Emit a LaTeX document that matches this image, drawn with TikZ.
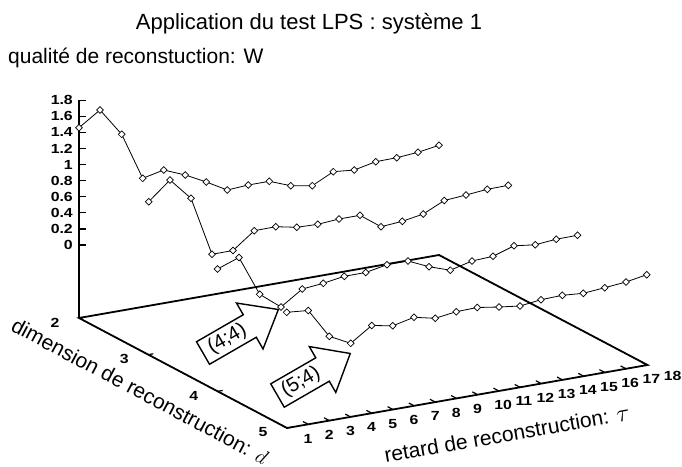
\documentclass[tikz,border=0pt]{standalone}
\usepackage{fontspec}
\setmainfont{Liberation Sans}
\usetikzlibrary{plotmarks}
\begin{document}
\begin{tikzpicture}[x=1pt,y=-1pt,
  curve/.style={line width=0.8pt, mark=square*, mark size=2.4pt,
    mark options={solid, fill=white, rotate=45, line width=0.7pt}},
  axisline/.style={line width=1.8pt, line join=miter},
  tickline/.style={line width=1.2pt},
  ticklab/.style={font=\fontsize{13.2}{15}\bfseries\selectfont, inner sep=0pt},
  lab/.style={font=\fontsize{21}{25}\selectfont, inner sep=0pt},
  bigarrow/.style={draw, line width=1.4pt, fill=white, line join=miter},
  arrowtext/.style={font=\fontsize{20}{24}\selectfont, inner sep=0pt, rotate=30}]
\useasboundingbox (0,0) rectangle (682,466);

% titles
\node[lab, anchor=base, font=\fontsize{22}{26}\selectfont] (title) at (309,29) {Application du test LPS : système 1};
\node[lab, anchor=base west] (zlab) at (8,63) {qualité de reconstuction: W};

% base plane
\coordinate (BL) at (79,318);
\coordinate (BR) at (439,255);
\coordinate (FR) at (647.5,365);
\coordinate (FL) at (287,428);
\coordinate (ZT) at (79,100);
\draw[axisline] (BL) -- (BR) -- (FR) -- (FL) -- cycle;
\draw[axisline] (ZT) -- (BL);

% vertical axis ticks and labels
\foreach \v in {0,0.2,0.4,0.6,0.8,1,1.2,1.4,1.6,1.8}{
  \draw[tickline] (79,{245-\v*80.5}) -- ++(7,0);
  \node[ticklab, anchor=east] at (73,{245-\v*80.5}) {\scalebox{1.2}[1]{\v}};
}

% tau axis ticks and labels
\foreach \i in {1,...,18}{
  \draw[tickline] ({287+(\i-1)*21.18},{428-(\i-1)*3.706}) -- ++(-5.3,-2.8);
  \node[ticklab, anchor=west] at ({287+(\i-1)*21.18+16.5},{428-(\i-1)*3.706+10.5}) {\scalebox{1.2}[1]{\i}};
}

% d axis ticks and labels
\foreach \d in {2,3,4,5}{
  \draw[tickline] ({79+(\d-2)*69.33},{318+(\d-2)*36.67}) -- ++(5,-0.9);
  \node[ticklab] at ({79+(\d-2)*69.33-24},{318+(\d-2)*36.67+4.5}) {\scalebox{1.2}[1]{\d}};
}

% axis titles
\node[lab, rotate=-28] (dlab) at (140,391) {dimension de reconstruction: $d$};
\node[lab, rotate=10] (tlab) at (507,434) {retard de reconstruction: {\fontsize{27}{30}\selectfont$\tau$}};

% curves
\draw[curve] plot coordinates {(79,127.7) (100,110) (121.7,134.3) (142.7,178.3) (163.7,170) (185.3,175) (206.3,182) (227.3,190) (248.3,185) (269.3,181.3) (290.7,185.7) (312.3,185.7) (333.3,171.7) (354.3,170) (375.7,161.7) (396.7,157.7) (418,152.3) (439,145.3)};
\draw[curve] plot coordinates {(148.7,201.7) (170,180) (191,198.3) (212,254.3) (233,250.5) (254.3,230.7) (275.7,226.7) (296.7,227.3) (317.7,224.3) (339,219) (360,215.3) (381,226.7) (402.3,221.3) (423.3,214) (444.3,200.5) (466,195) (487.3,189.3) (508.3,185.3)};
\draw[curve] plot coordinates {(217.5,269) (239,257.5) (259.7,294.3) (281,307) (302.3,289) (323.3,283.3) (344.3,276.3) (365.7,272.5) (387,264.7) (408,261) (429,266.7) (450.3,270.2) (472,261) (493,256.3) (514,245.8) (535.2,244.8) (556.2,239.2) (577.5,235.3)};
\draw[curve] plot coordinates {(286.7,312.3) (308.3,310.5) (329.3,336.3) (350.7,343.3) (371.7,325.5) (392.7,325.8) (414,317.3) (435.2,318.3) (456.2,311.7) (477.2,307.5) (499,307) (520,306) (541,299.7) (562.3,295.3) (583.3,293.3) (604.7,287.7) (626,282) (646.7,274.7)};

% block arrows
\begin{scope}[shift={(203,353)}, rotate=30]
  \draw[bigarrow] (0,-13) -- (54,-13) -- (54,-26.5) -- (87,0) -- (54,26.5) -- (54,13) -- (0,13) -- cycle;
  \node[arrowtext] (a44) at (28,0) {(4;4)};
\end{scope}
\begin{scope}[shift={(277.5,395.5)}, rotate=30]
  \draw[bigarrow] (0,-13.5) -- (52,-13.5) -- (52,-26.5) -- (84,0) -- (52,26.5) -- (52,13.5) -- (0,13.5) -- cycle;
  \node[arrowtext] (a54) at (27,0) {(5;4)};
\end{scope}
\end{tikzpicture}
\end{document}
